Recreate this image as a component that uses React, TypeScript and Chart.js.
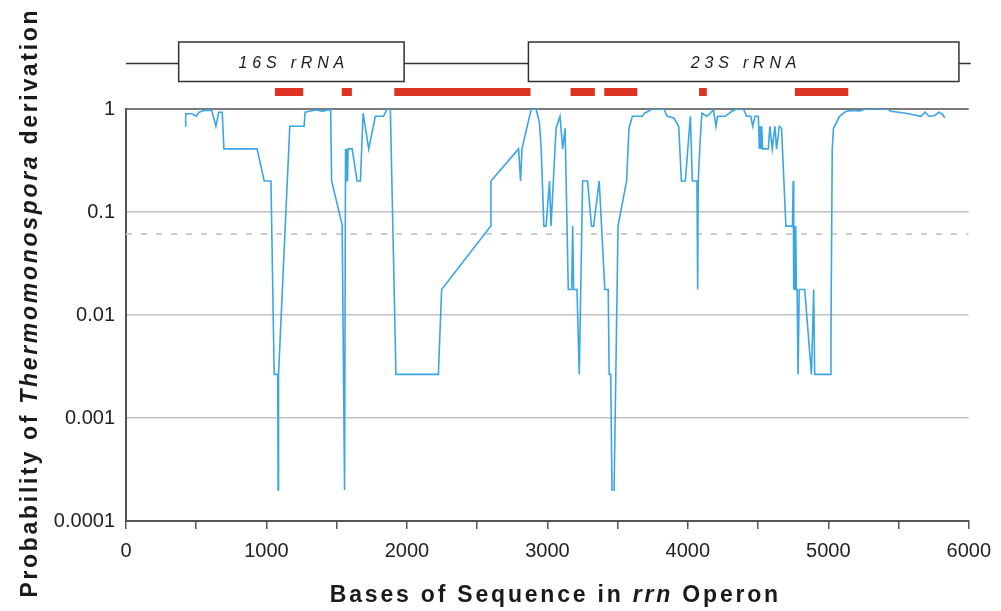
import { useEffect, useRef } from 'react';
import { Chart, registerables } from 'chart.js';

Chart.register(...registerables);

// ---- data ----
const POSITIONS = [
  423, 425, 470, 500, 520, 560, 610, 640, 660, 685, 697, 933, 984, 1032, 1055, 1080, 1083, 1086,
  1166, 1268, 1275, 1320, 1360, 1400, 1430, 1457, 1464, 1539, 1556, 1563, 1567, 1572, 1577, 1581,
  1610, 1645, 1669, 1688, 1728, 1775, 1834, 1858, 1882, 1922, 2224, 2247, 2597, 2598, 2795, 2809,
  2819, 2885, 2920, 2944, 2956, 2975, 2991, 3015, 3026, 3062, 3090, 3109, 3126, 3149, 3173, 3180,
  3187, 3211, 3227, 3251, 3286, 3314, 3329, 3369, 3409, 3433, 3440, 3451, 3460, 3475, 3503, 3564,
  3581, 3605, 3676, 3692, 3746, 3829, 3853, 3900, 3935, 3954, 3982, 4018, 4032, 4065, 4070, 4074,
  4088, 4100, 4136, 4183, 4200, 4212, 4266, 4313, 4348, 4396, 4419, 4448, 4462, 4478, 4502, 4509,
  4514, 4520, 4526, 4532, 4537, 4573, 4584, 4601, 4620, 4632, 4651, 4667, 4684, 4698, 4745, 4750,
  4754, 4758, 4763, 4768, 4773, 4778, 4785, 4793, 4832, 4880, 4896, 4903, 5014, 5019, 5028, 5037,
  5080, 5127, 5175, 5222, 5269, 5423, 5446, 5552, 5659, 5689, 5717, 5753, 5788, 5812, 5829,
];
const PROBABILITIES = [
  0.68, 0.9, 0.9, 0.85, 0.93, 0.97, 0.97, 0.68, 0.93, 0.93, 0.41, 0.41, 0.2, 0.2, 0.00265, 0.00265, 0.0002, 0.00265,
  0.68, 0.68, 0.93, 0.96, 0.98, 0.95, 0.98, 0.98, 0.2, 0.075, 0.0002, 0.41, 0.2, 0.41, 0.2, 0.41,
  0.41, 0.2, 0.2, 0.91, 0.41, 0.85, 0.85, 1.0, 1.0, 0.00265, 0.00265, 0.0177, 0.073, 0.2, 0.41, 0.2,
  0.41, 1.0, 1.0, 0.73, 0.41, 0.073, 0.073, 0.2, 0.073, 0.65, 0.85, 0.41, 0.65, 0.0177, 0.0177, 0.073,
  0.0177, 0.0177, 0.00265, 0.2, 0.2, 0.073, 0.073, 0.2, 0.0177, 0.0177, 0.00265, 0.00265, 0.0002, 0.0002, 0.073, 0.2,
  0.65, 0.85, 0.85, 0.91, 1.0, 1.0, 0.85, 0.82, 0.68, 0.2, 0.2, 0.85, 0.2, 0.2, 0.0177, 0.2,
  0.5, 0.91, 0.85, 0.98, 0.68, 0.85, 0.85, 0.95, 1.0, 1.0, 0.85, 0.85, 0.68, 0.85, 0.85, 0.41,
  0.68, 0.41, 0.68, 0.41, 0.41, 0.41, 0.68, 0.41, 0.68, 0.41, 0.68, 0.65, 0.2, 0.073, 0.073, 0.2,
  0.0177, 0.073, 0.0177, 0.073, 0.0177, 0.0177, 0.00265, 0.0177, 0.0177, 0.00265, 0.0177, 0.00265, 0.00265, 0.0067, 0.41, 0.65,
  0.85, 0.95, 0.97, 0.96, 1.0, 1.0, 0.95, 0.91, 0.85, 0.93, 0.85, 0.86, 0.93, 0.89, 0.82,
];
const THRESHOLD = 0.061;
const Y_TICKS = [0.0001, 0.001, 0.01, 0.1, 1];
const X_MIN = 0;
const X_MAX = 6000;
const X_STEP = 500;
const X_LABEL_STEP = 1000;

const GENE_NAMES = ['16S rRNA', '23S rRNA'];
const GENE_STARTS = [375, 2865];
const GENE_ENDS = [1980, 5930];
const REGION_STARTS = [1060, 1536, 1910, 3165, 3405, 4080, 4762];
const REGION_ENDS = [1262, 1608, 2880, 3338, 3640, 4135, 5142];

const X_TITLE = [
  { text: 'Bases of Sequence in ', italic: false },
  { text: 'rrn', italic: true },
  { text: ' Operon', italic: false },
];
const Y_TITLE = [
  { text: 'Probability of ', italic: false },
  { text: 'Thermomonospora', italic: true },
  { text: ' derivation', italic: false },
];

const FAMILY = "'Liberation Sans', Arial, sans-serif";

type Seg = { text: string; italic: boolean };

function drawSpaced(
  ctx: CanvasRenderingContext2D,
  segs: Seg[],
  size: number,
  weight: string,
  spacing: number,
  cx: number,
  y: number,
) {
  const chars: { ch: string; font: string; w: number }[] = [];
  for (const s of segs) {
    const font = `${s.italic ? 'italic ' : ''}${weight} ${size}px ${FAMILY}`;
    ctx.font = font;
    for (const ch of s.text) chars.push({ ch, font, w: ctx.measureText(ch).width });
  }
  const total = chars.reduce((a, c) => a + c.w, 0) + spacing * (chars.length - 1);
  let x = cx - total / 2;
  ctx.textAlign = 'left';
  for (const c of chars) {
    ctx.font = c.font;
    ctx.fillText(c.ch, x, y);
    x += c.w + spacing;
  }
}

const decorPlugin = {
  id: 'decor',
  afterDraw(chart: any) {
    const ctx: CanvasRenderingContext2D = chart.ctx;
    const xs = chart.scales.x;
    ctx.save();
    // backbone line
    ctx.strokeStyle = '#333';
    ctx.lineWidth = 1.5;
    ctx.beginPath();
    ctx.moveTo(xs.getPixelForValue(X_MIN), 63.5);
    ctx.lineTo(xs.getPixelForValue(X_MAX) + 2, 63.5);
    ctx.stroke();
    // gene boxes
    GENE_NAMES.forEach((name, i) => {
      const x0 = xs.getPixelForValue(GENE_STARTS[i]);
      const x1 = xs.getPixelForValue(GENE_ENDS[i]);
      ctx.fillStyle = '#fff';
      ctx.fillRect(x0, 42, x1 - x0, 39.5);
      ctx.strokeStyle = '#333';
      ctx.lineWidth = 1.5;
      ctx.strokeRect(x0, 42, x1 - x0, 39.5);
      ctx.fillStyle = '#1a1a1a';
      ctx.textBaseline = 'alphabetic';
      drawSpaced(ctx, [{ text: name, italic: true }], 16, 'normal', 4.8, (x0 + x1) / 2, 68);
    });
    // red regions
    ctx.fillStyle = '#dc3322';
    REGION_STARTS.forEach((s, i) => {
      const x0 = xs.getPixelForValue(s);
      const x1 = xs.getPixelForValue(REGION_ENDS[i]);
      ctx.fillRect(x0, 88, x1 - x0, 8);
    });
    // axis titles
    ctx.fillStyle = '#1a1a1a';
    ctx.textBaseline = 'alphabetic';
    drawSpaced(ctx, X_TITLE, 23, 'bold', 2.8, 554, 602);
    ctx.translate(37, 304);
    ctx.rotate(-Math.PI / 2);
    drawSpaced(ctx, Y_TITLE, 23, 'bold', 2.7, 0, 0);
    ctx.restore();
  },
};

export default function App() {
  const ref = useRef<HTMLCanvasElement>(null);
  useEffect(() => {
    const canvas = ref.current!;
    const chart = new Chart(canvas, {
      type: 'line',
      data: {
        datasets: [
          {
            label: 'probability',
            data: POSITIONS.map((x, i) => ({ x, y: PROBABILITIES[i] })),
            borderColor: '#3aa6e6',
            borderWidth: 1.6,
            pointRadius: 0,
            tension: 0,
            order: 1,
          },
          {
            label: 'threshold',
            data: [
              { x: X_MIN, y: THRESHOLD },
              { x: X_MAX, y: THRESHOLD },
            ],
            borderColor: '#cccccc',
            borderWidth: 2,
            borderDash: [6, 9],
            pointRadius: 0,
            order: 2,
          },
        ],
      },
      options: {
        responsive: false,
        animation: false,
        devicePixelRatio: 1,
        layout: { padding: { top: 109, right: 28, left: 0, bottom: 0 } },
        plugins: { legend: { display: false }, tooltip: { enabled: false } },
        scales: {
          x: {
            type: 'linear',
            min: X_MIN,
            max: X_MAX,
            afterFit: (s: any) => {
              s.height = 90;
            },
            ticks: {
              stepSize: X_STEP,
              autoSkip: false,
              maxRotation: 0,
              padding: 10,
              color: '#222',
              font: { family: FAMILY, size: 20 },
              callback: (v: any) => (Number(v) % X_LABEL_STEP === 0 ? String(v) : ''),
            },
            grid: {
              drawOnChartArea: false,
              drawTicks: true,
              tickLength: 8,
              color: '#555',
              lineWidth: 1.5,
            },
            border: { display: true, color: '#555', width: 2 },
          },
          y: {
            type: 'logarithmic',
            min: Y_TICKS[0],
            max: Y_TICKS[Y_TICKS.length - 1],
            afterFit: (s: any) => {
              s.width = 126;
            },
            afterBuildTicks: (s: any) => {
              s.ticks = Y_TICKS.map((v) => ({ value: v }));
            },
            ticks: {
              padding: 11,
              color: '#222',
              font: { family: FAMILY, size: 20 },
              callback: (v: any) => String(Number(v)),
            },
            grid: {
              drawTicks: false,
              color: (c: any) =>
                c.tick && c.tick.value === 1
                  ? '#7a7a7a'
                  : c.tick && c.tick.value === Y_TICKS[0]
                  ? 'rgba(0,0,0,0)'
                  : '#c2c2c2',
              lineWidth: (c: any) => (c.tick && c.tick.value === 1 ? 2 : 1.6),
            },
            border: { display: true, color: '#555', width: 2 },
          },
        },
      },
      plugins: [decorPlugin],
    } as any);
    return () => chart.destroy();
  }, []);
  return (
    <div style={{ position: 'fixed', left: 0, top: 0, width: 1001, height: 611, background: '#fff' }}>
      <canvas ref={ref} width={1001} height={611} style={{ width: 1001, height: 611, display: 'block' }} />
    </div>
  );
}
